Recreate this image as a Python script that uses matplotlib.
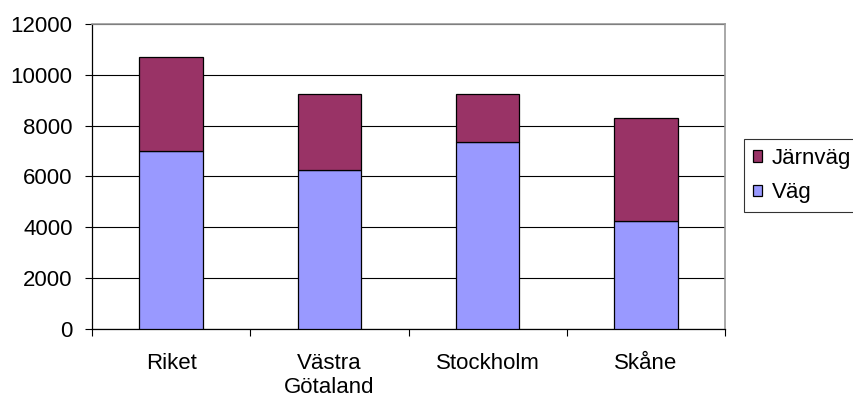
import matplotlib
matplotlib.use("Agg")
import matplotlib.pyplot as plt
import numpy as np

# Transport volumes per region, split by mode
regions = ["Riket", "Västra\nGötaland", "Stockholm", "Skåne"]
vag = [7000, 6270, 7370, 4260]
jarnvag = [3700, 2970, 1870, 4060]
y_ticks = [0, 2000, 4000, 6000, 8000, 10000, 12000]

plt.rcParams["font.family"] = ["Liberation Sans", "DejaVu Sans"]
FS = 16

fig = plt.figure(figsize=(8.54, 3.98), dpi=100)
ax = fig.add_axes([92 / 854, 1 - 329 / 398, (725 - 92) / 854, (329 - 24) / 398])

x = np.arange(len(regions))
b1 = ax.bar(x, vag, width=0.4, color="#9999FF", edgecolor="black", lw=0.9,
            label="Väg", zorder=3)
b2 = ax.bar(x, jarnvag, width=0.4, bottom=vag, color="#993366",
            edgecolor="black", lw=0.9, label="Järnväg", zorder=3)

ax.set_xlim(-0.5, len(regions) - 0.5)
ax.set_ylim(0, 12000)
ax.set_yticks(y_ticks)
ax.set_yticklabels([str(v) for v in y_ticks], fontsize=FS)
ax.yaxis.grid(True, color="black", lw=0.8, zorder=0)
ax.tick_params(axis="y", length=5, width=0.8, pad=9)

# category labels at centres, tick marks between categories
ax.set_xticks(x)
ax.set_xticklabels(regions, fontsize=FS, linespacing=1.2)
ax.tick_params(axis="x", which="major", length=0, pad=17)
ax.set_xticks(np.arange(len(regions) + 1) - 0.5, minor=True)
ax.tick_params(axis="x", which="minor", length=5, width=0.8)

for side in ("left", "bottom"):
    ax.spines[side].set_color("black")
    ax.spines[side].set_linewidth(0.9)
for side in ("top", "right"):
    ax.spines[side].set_color("#999999")
    ax.spines[side].set_linewidth(1.2)

leg = fig.legend(handles=[b2, b1], labels=["Järnväg", "Väg"],
                 loc="upper left", bbox_to_anchor=(744 / 854, 1 - 139 / 398),
                 fontsize=FS, frameon=True, fancybox=False, shadow=False,
                 handlelength=0.4, handleheight=0.4, handletextpad=0.45,
                 labelspacing=0.6, borderpad=0.4, borderaxespad=0)
leg.get_frame().set_edgecolor("black")
leg.get_frame().set_linewidth(0.8)

fig.savefig("out.png", dpi=100)
